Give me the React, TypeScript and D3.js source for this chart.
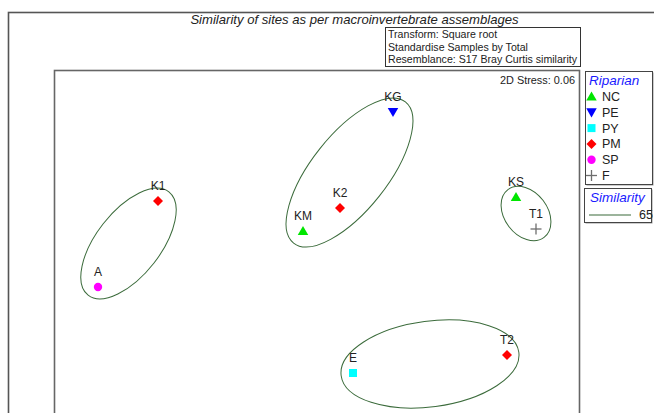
import React from "react";
import * as d3 from "d3";

// nMDS ordination of sites (arbitrary MDS units)
const sites = ["KG", "K2", "KM", "K1", "A", "KS", "T1", "T2", "E"];
const siteGroups = ["PE", "PM", "NC", "PM", "SP", "NC", "F", "PM", "PY"];
const mdsX = [0.755, 0.225, -0.145, -1.595, -2.195, 1.985, 2.185, 1.895, 0.355];
const mdsY = [1.38, 0.42, 0.19, 0.49, -0.37, 0.53, 0.21, -1.05, -1.23];

// 65% similarity contours, approximated as ellipses (MDS units, angle in degrees)
const contourCX = [-1.89, 0.32, 2.085, 1.125];
const contourCY = [0.065, 0.775, 0.365, -1.14];
const contourRX = [0.656, 0.9, 0.3, 0.896];
const contourRY = [0.321, 0.38, 0.215, 0.428];
const contourAngle = [52, 51.6, -53, 7.5];
const similarityLevel = 65;

const legendGroups = ["NC", "PE", "PY", "PM", "SP", "F"];
const infoLines = [
  "Transform: Square root",
  "Standardise Samples by Total",
  "Resemblance: S17 Bray Curtis similarity",
];
const titleText = "Similarity of sites as per macroinvertebrate assemblages";
const stressText = "2D Stress: 0.06";

const groupColor: Record<string, string> = {
  NC: "#00e600",
  PE: "#0000ff",
  PY: "#00ffff",
  PM: "#ff0000",
  SP: "#ff00ff",
  F: "#6e6e6e",
};

const FONT = "'Liberation Sans', Arial, sans-serif";
const W = 654;
const H = 413;

function Marker({ group, x, y }: { group: string; x: number; y: number }) {
  const c = groupColor[group];
  if (group === "F") {
    return (
      <g stroke={c} strokeWidth={1.3}>
        <line x1={x - 5.5} x2={x + 5.5} y1={y} y2={y} />
        <line x1={x} x2={x} y1={y - 5.5} y2={y + 5.5} />
      </g>
    );
  }
  let type: d3.SymbolType = d3.symbolCircle;
  let size = 55;
  let rot = 0;
  let dy = 0;
  if (group === "NC") {
    type = d3.symbolTriangle;
    size = 48;
    dy = 1;
  } else if (group === "PE") {
    type = d3.symbolTriangle;
    size = 48;
    rot = 180;
    dy = -1;
  } else if (group === "PY") {
    type = d3.symbolSquare;
    size = 64;
  } else if (group === "PM") {
    type = d3.symbolSquare;
    size = 50;
    rot = 45;
  }
  const p = d3.symbol().type(type).size(size)() as string;
  return <path d={p} fill={c} transform={`translate(${x},${y + dy}) rotate(${rot})`} />;
}

export default function App() {
  const plotLeft = 54;
  const plotRight = 579;
  const plotTop = 71;
  const plotBottom = 430;

  const x = d3.scaleLinear().domain([-2.635, 2.615]).range([plotLeft, plotRight]);
  const y = d3.scaleLinear().domain([-1.8, 1.79]).range([plotBottom, plotTop]);
  const kx = x(1) - x(0);
  const ky = y(0) - y(1);

  const legX = 585;
  const legY = 71;
  const legW = 67;
  const legH = 113;

  return (
    <svg
      width={W}
      height={H}
      style={{ position: "fixed", left: 0, top: 0, background: "#fff" }}
      fontFamily={FONT}
    >
      <rect width={W} height={H} fill="#fff" />
      {/* outer frame */}
      <rect x={8.5} y={12.5} width={700} height={500} fill="none" stroke="#555" strokeWidth={1.6} />
      <text x={354.5} y={24} textAnchor="middle" fontSize={13.1} fontStyle="italic" fill="#222">
        {titleText}
      </text>

      {/* transform / resemblance box */}
      <rect x={385.5} y={27.5} width={195} height={39} fill="#fff" stroke="#333" strokeWidth={1} />
      {infoLines.map((t, i) => (
        <text key={t} x={388} y={38 + i * 12.5} fontSize={10.6} fill="#222">
          {t}
        </text>
      ))}

      {/* ordination frame */}
      <rect
        x={plotLeft + 0.5}
        y={plotTop - 0.5}
        width={plotRight - plotLeft}
        height={plotBottom - plotTop}
        fill="none"
        stroke="#666"
        strokeWidth={1.6}
      />
      <text x={575} y={84} textAnchor="end" fontSize={10.9} fill="#222">
        {stressText}
      </text>

      {/* similarity contours */}
      {contourCX.map((cx, i) => {
        const px = x(cx);
        const py = y(contourCY[i]);
        return (
          <ellipse
            key={i}
            cx={px}
            cy={py}
            rx={contourRX[i] * kx}
            ry={contourRY[i] * ky}
            transform={`rotate(${-contourAngle[i]} ${px} ${py})`}
            fill="none"
            stroke="#3b6b3b"
            strokeWidth={1}
          />
        );
      })}

      {/* sites */}
      {sites.map((s, i) => {
        const px = x(mdsX[i]);
        const py = y(mdsY[i]);
        return (
          <g key={s}>
            <Marker group={siteGroups[i]} x={px} y={py} />
            <text x={px} y={py - 11} textAnchor="middle" fontSize={12} fill="#222">
              {s}
            </text>
          </g>
        );
      })}

      {/* group legend */}
      <rect x={legX + 1.5} y={legY + 1.5} width={legW} height={legH} fill="#999" />
      <rect x={legX + 0.5} y={legY + 0.5} width={legW} height={legH} fill="#fff" stroke="#444" strokeWidth={1} />
      <text x={589} y={85} fontSize={13.5} fontStyle="italic" fill="#1a1aff">
        Riparian
      </text>
      {legendGroups.map((g, i) => {
        const cy = 96.5 + i * 15.8;
        return (
          <g key={g}>
            <Marker group={g} x={591.5} y={cy} />
            <text x={602} y={cy + 4.5} fontSize={12.5} fill="#222">
              {g}
            </text>
          </g>
        );
      })}

      {/* similarity legend */}
      <rect x={585.5} y={189.5} width={67} height={34} fill="#999" />
      <rect x={584.5} y={188.5} width={67} height={34} fill="#fff" stroke="#444" strokeWidth={1} />
      <text x={590} y={202} fontSize={13.5} fontStyle="italic" fill="#1a1aff">
        Similarity
      </text>
      <line x1={589} x2={631} y1={215} y2={215} stroke="#3b6b3b" strokeWidth={1.1} />
      <text x={639} y={219} fontSize={12.5} fill="#222">
        {similarityLevel}
      </text>
    </svg>
  );
}
